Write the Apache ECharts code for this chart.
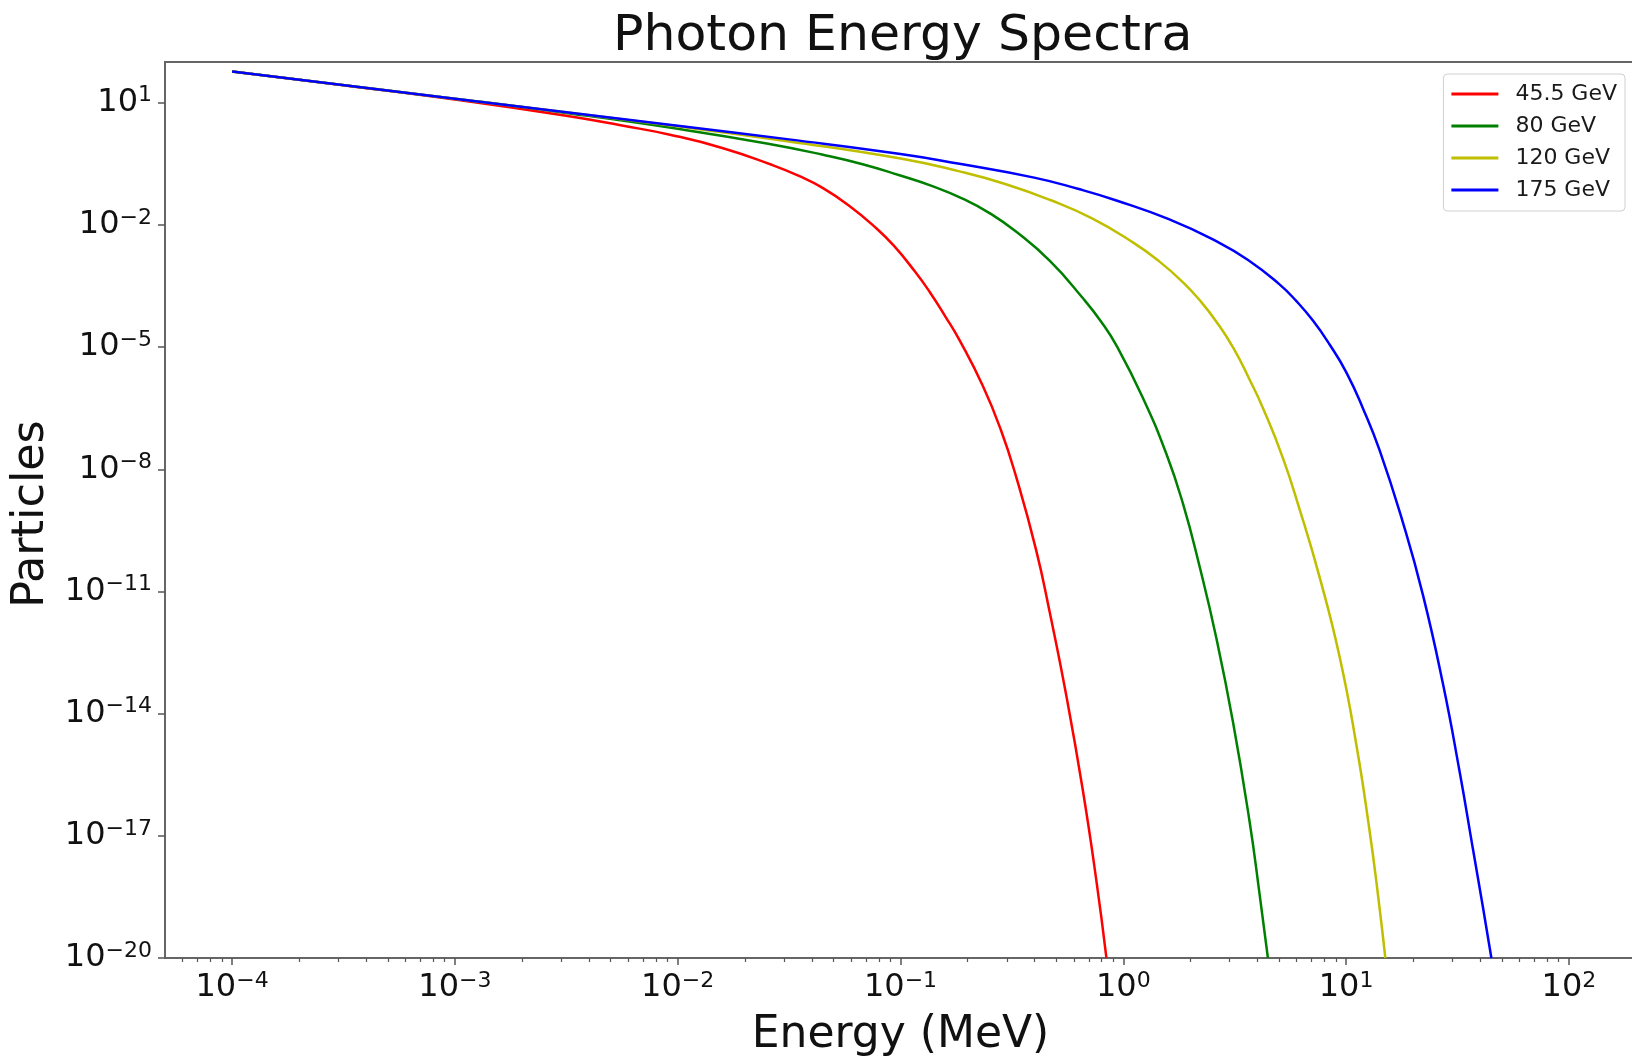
<!DOCTYPE html>
<html>
<head>
<meta charset="utf-8">
<title>Photon Energy Spectra</title>
<script src="https://cdn.jsdelivr.net/npm/echarts@6.0.0/dist/echarts.min.js"></script>
<style>
	html, body { margin: 0; padding: 0; background: #fff; }
	#chart { width: 1632px; height: 1058px; }
</style>
</head>
<body>
<div id="chart"></div>
<script>
// ============================================== 数据 ======================================================
var seriesNames = ['45.5 GeV', '80 GeV', '120 GeV', '175 GeV'];
var seriesColors = ['#ff0000', '#008000', '#bfbf00', '#0000ff'];

// 45.5 GeV
var energy455 = [1e-4, 3.16e-4, 1e-3, 3.16e-3, 5.62e-3, 9.23e-3, 1.585e-2, 2.64e-2, 3.5e-2, 4.49e-2, 5.90e-2, 7.60e-2, 9.33e-2, 0.1159, 0.135, 0.159, 0.184, 0.234, 0.282, 0.331, 0.406, 0.467, 0.555, 0.659, 0.757, 0.840];
var particles455 = [58.7, 26.9, 12.0, 4.79, 2.75, 1.64, 0.776, 0.300, 0.160, 0.0802, 2.92e-2, 9.33e-3, 3.09e-3, 7.24e-4, 2.29e-4, 5.62e-5, 1.48e-5, 1.12e-6, 9.33e-8, 6.31e-9, 1.05e-10, 3.16e-12, 2.75e-14, 1.26e-16, 7.94e-19, 1e-20];

// 80 GeV
var energy80 = [1e-4, 1e-3, 3.16e-3, 1e-2, 2.51e-2, 4.49e-2, 6.76e-2, 9.89e-2, 0.138, 0.191, 0.251, 0.331, 0.467, 0.659, 0.794, 0.931, 1.225, 1.560, 1.854, 2.203, 2.612, 3.105, 3.690, 4.093, 4.457];
var particles80 = [58.7, 12.6, 5.62, 2.29, 1.00, 0.528, 0.310, 0.166, 9.12e-2, 4.37e-2, 1.95e-2, 6.76e-3, 1.32e-3, 1.58e-4, 4.27e-5, 1.10e-5, 5.62e-7, 2.40e-8, 1.41e-9, 3.98e-11, 7.41e-13, 6.31e-15, 2.19e-17, 3.55e-19, 1e-20];

// 120 GeV
var energy120 = [1e-4, 1e-3, 1e-2, 3.16e-2, 0.1, 0.184, 0.295, 0.467, 0.724, 1.104, 1.445, 1.854, 2.213, 2.612, 3.126, 3.690, 4.236, 5.200, 6.180, 7.603, 9.354, 11.12, 12.76, 13.90, 15.0];
var particles120 = [58.7, 12.6, 2.63, 1.12, 0.427, 0.206, 0.101, 4.14e-2, 1.45e-2, 3.72e-3, 1.29e-3, 3.89e-4, 1.37e-4, 4.27e-5, 9.33e-6, 1.58e-6, 3.16e-7, 1.91e-8, 1.05e-9, 2.24e-11, 2.45e-13, 1.70e-15, 1.26e-17, 3.55e-19, 1e-20];

// 175 GeV
var energy175 = [1e-4, 1e-3, 1e-2, 3.16e-2, 0.1, 0.184, 0.398, 0.631, 0.931, 1.6, 2.612, 3.63, 5.023, 5.97, 7.096, 8.43, 10.02, 11.89, 14.13, 17.99, 22.13, 27.16, 32.28, 37.07, 41.11, 44.87];
var particles175 = [58.7, 12.6, 2.73, 1.26, 0.550, 0.316, 0.145, 7.59e-2, 3.98e-2, 1.38e-2, 3.98e-3, 1.38e-3, 3.47e-4, 1.36e-4, 4.47e-5, 1.16e-5, 2.40e-6, 3.16e-7, 2.95e-8, 4.90e-10, 8.13e-12, 5.62e-14, 3.89e-16, 4.79e-18, 1.78e-19, 1e-20];

// 刻度
var xTickValues = [1e-4, 1e-3, 1e-2, 1e-1, 1, 10, 100];
var xTickLabels = ['−4', '−3', '−2', '−1', '0', '1', '2'];
var yTickValues = [1e-20, 1e-17, 1e-14, 1e-11, 1e-8, 1e-5, 1e-2, 10];
var yTickLabels = ['−20', '−17', '−14', '−11', '−8', '−5', '−2', '1'];
var xMinorTicks = [6e-5, 7e-5, 8e-5, 9e-5,
	2e-4, 3e-4, 4e-4, 5e-4, 6e-4, 7e-4, 8e-4, 9e-4,
	2e-3, 3e-3, 4e-3, 5e-3, 6e-3, 7e-3, 8e-3, 9e-3,
	2e-2, 3e-2, 4e-2, 5e-2, 6e-2, 7e-2, 8e-2, 9e-2,
	0.2, 0.3, 0.4, 0.5, 0.6, 0.7, 0.8, 0.9,
	2, 3, 4, 5, 6, 7, 8, 9,
	20, 30, 40, 50, 60, 70, 80, 90];

// ============================================== 函数 ======================================================
var FONT = 'DejaVu Sans';

function pairs(xs, ys) {
	var out = [];
	for (var i = 0; i < xs.length; i++) out.push([xs[i], ys[i]]);
	return out;
}

function tickLabel(values, labels) {
	return function (v) {
		for (var i = 0; i < values.length; i++) {
			if (Math.abs(v / values[i] - 1) < 1e-6) return '{b|10}{s|' + labels[i] + '}';
		}
		return '';
	};
}

var labelRich = {
	b: { fontSize: 32, fontFamily: FONT, color: '#111', lineHeight: 36 },
	s: { fontSize: 22, fontFamily: FONT, color: '#111', verticalAlign: 'top', lineHeight: 36 }
};

function makeSeries(name, color, xs, ys) {
	return {
		name: name,
		type: 'line',
		data: pairs(xs, ys),
		showSymbol: false,
		symbol: 'none',
		smooth: 0.5,
		lineStyle: { color: color, width: 2.5 },
		itemStyle: { color: color }
	};
}

// ============================================== 图表 ======================================================
var myChart = echarts.init(document.getElementById('chart'));
var option = {
	animation: false,
	backgroundColor: '#fff',
	title: {
		text: 'Photon Energy Spectra',
		left: 613,
		top: 11,
		padding: 0,
		textStyle: { fontSize: 50.5, fontWeight: 'normal', fontFamily: FONT, color: '#111' }
	},
	legend: {
		data: seriesNames,
		orient: 'vertical',
		right: 7,
		top: 74,
		padding: [9, 8, 10, 8],
		icon: 'rect',
		itemWidth: 47,
		itemHeight: 3,
		itemGap: 10,
		backgroundColor: '#fff',
		borderColor: '#d0d0d0',
		borderWidth: 1,
		borderRadius: 4,
		formatter: function (name) { return '{t|' + name + '}'; },
		textStyle: {
			rich: { t: { fontSize: 22, fontFamily: FONT, color: '#1a1a1a', lineHeight: 24, padding: [0, 0, 0, 12] } }
		}
	},
	grid: {
		left: 165,
		top: 62,
		right: -4,
		bottom: 100,
		containLabel: false,
		outerBoundsMode: 'none',
		show: true,
		borderColor: '#666',
		borderWidth: 2,
		backgroundColor: 'transparent'
	},
	xAxis: [{
		type: 'log',
		min: 5e-5,
		max: 200,
		name: 'Energy (MeV)',
		nameLocation: 'middle',
		nameGap: 56,
		nameTextStyle: { fontSize: 44, fontFamily: FONT, color: '#111' },
		axisLine: { show: false },
		axisTick: { show: true, customValues: xTickValues, length: 7, lineStyle: { color: '#555', width: 1.5 } },
		axisLabel: { customValues: xTickValues, margin: 12, formatter: tickLabel(xTickValues, xTickLabels), rich: labelRich },
		splitLine: { show: false },
		minorTick: { show: false }
	}, {
		type: 'log',
		min: 5e-5,
		max: 200,
		position: 'bottom',
		axisLine: { show: false },
		axisTick: { show: true, customValues: xMinorTicks, length: 4, lineStyle: { color: '#555', width: 1.2 } },
		axisLabel: { show: false },
		splitLine: { show: false }
	}],
	yAxis: {
		type: 'log',
		min: 1e-20,
		max: 100,
		name: 'Particles',
		nameLocation: 'middle',
		nameRotate: 90,
		nameGap: 104,
		nameTextStyle: { fontSize: 44.5, fontFamily: FONT, color: '#111', padding: [0, 8, 0, 0] },
		axisLine: { show: false },
		axisTick: { show: true, customValues: yTickValues, length: 7, lineStyle: { color: '#555', width: 1.5 } },
		axisLabel: { customValues: yTickValues, margin: 13, formatter: tickLabel(yTickValues, yTickLabels), rich: labelRich },
		splitLine: { show: false }
	},
	series: [
		makeSeries(seriesNames[0], seriesColors[0], energy455, particles455),
		makeSeries(seriesNames[1], seriesColors[1], energy80, particles80),
		makeSeries(seriesNames[2], seriesColors[2], energy120, particles120),
		makeSeries(seriesNames[3], seriesColors[3], energy175, particles175)
	]
};
myChart.setOption(option);
</script>
</body>
</html>
